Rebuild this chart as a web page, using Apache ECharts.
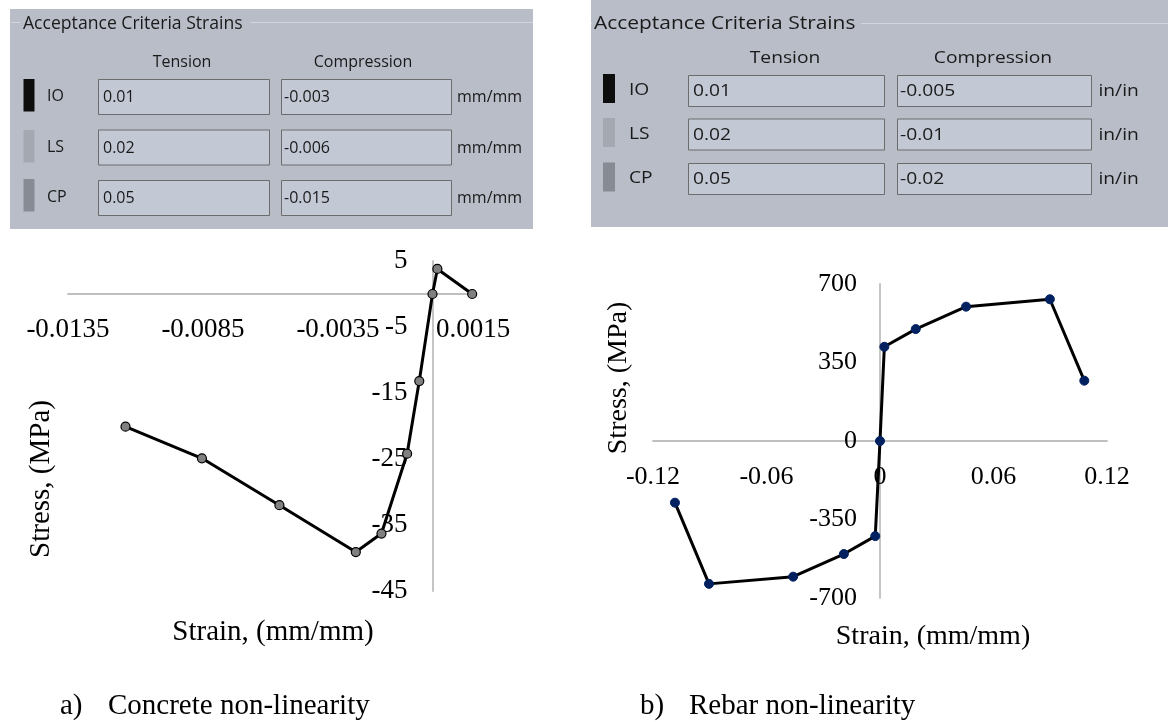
<!DOCTYPE html>
<html><head><meta charset="utf-8">
<script src="https://cdn.jsdelivr.net/npm/echarts@6.0.0/dist/echarts.min.js"></script>
<style>html,body{margin:0;padding:0;background:#fff}#c{width:1168px;height:722px}</style>
</head><body><div id="c"></div>
<script>
// ---- data ----
const concreteStrain = [-0.01137, -0.00854, -0.00567, -0.00284, -0.00189, -0.00094, -0.00049, 0, 0.00018, 0.00147];
const concreteStress = [-20.1, -24.9, -32.0, -39.1, -36.3, -24.2, -13.2, 0, 3.8, 0];
const rebarStrain = [-0.1084, -0.0904, -0.0459, -0.0191, -0.0025, 0, 0.0023, 0.0189, 0.0455, 0.0898, 0.108];
const rebarStress = [-275, -637, -605, -504, -424, 0, 420, 499, 599, 632, 269];
const concreteXAxis = {min: -0.0135, max: 0.0015, interval: 0.005};
const concreteYAxis = {min: -45, max: 5, interval: 10};
const rebarXAxis = {min: -0.12, max: 0.12, interval: 0.06};
const rebarYAxis = {min: -700, max: 700, interval: 350};
const levels = ['IO', 'LS', 'CP'];
const concreteTension = ['0.01', '0.02', '0.05'];
const concreteCompression = ['-0.003', '-0.006', '-0.015'];
const rebarTension = ['0.01', '0.02', '0.05'];
const rebarCompression = ['-0.005', '-0.01', '-0.02'];
const concreteUnit = 'mm/mm';
const rebarUnit = 'in/in';
const panelTitle = 'Acceptance Criteria Strains';
const colHeads = ['Tension', 'Compression'];
const axisTitles = {x: 'Strain, (mm/mm)', y: 'Stress, (MPa)'};
const captions = [['a)', 'Concrete non-linearity'], ['b)', 'Rebar non-linearity']];

// ---- styles ----
const SERIF = '"Liberation Serif", "Times New Roman", serif';
const UI = '"Open Sans", "Noto Sans", sans-serif';
const levelColors = ['#0d0d0d', '#a4a8b1', '#878b94'];
const PANEL_BG = '#b8bdc8', BOX_BG = '#c3c8d5', BOX_BORDER = '#6c6c6c', UI_TEXT = '#1a1a1a';

function txt(x, y, text, font, opts) {
  opts = opts || {};
  return {
    type: 'text', x: x, y: y, rotation: opts.rotation || 0,
    scaleX: opts.scaleX || 1, scaleY: 1, z: opts.z || 10,
    style: {
      text: text, font: font, fill: opts.fill || UI_TEXT,
      textAlign: opts.align || 'left', textVerticalAlign: 'middle',
      align: opts.align || 'left', verticalAlign: 'middle'
    }
  };
}
function rect(x, y, w, h, fill, stroke) {
  return {type: 'rect', z: 5, shape: {x: x, y: y, width: w, height: h},
    style: {fill: fill, stroke: stroke || null, lineWidth: stroke ? 1 : 0}};
}
function line(x1, y1, x2, y2, c) {
  return {type: 'line', z: 6, shape: {x1: x1, y1: y1, x2: x2, y2: y2}, style: {stroke: c, lineWidth: 1}};
}

function panel(p, tension, compression, unit) {
  const g = [];
  g.push(rect(p.x, p.y, p.w, p.h, PANEL_BG));
  g.push(line(p.x + 1, p.lineY, p.titleX - 3, p.lineY, '#d3d6dd'));
  g.push(line(p.titleEnd + 4, p.lineY, p.x + p.w, p.lineY, '#d3d6dd'));
  g.push(txt(p.titleX, p.titleY, panelTitle, p.titleFont, {scaleX: p.tsx}));
  g.push(txt(p.headX[0], p.headY, colHeads[0], p.font, {align: 'center', scaleX: p.sx}));
  g.push(txt(p.headX[1], p.headY, colHeads[1], p.font, {align: 'center', scaleX: p.sx}));
  for (let i = 0; i < levels.length; i++) {
    const top = p.rowTop[i];
    g.push(rect(p.barX, p.barTop[i], p.barW, p.barH, levelColors[i]));
    g.push(txt(p.labelX, top + p.boxH / 2, levels[i], p.font, {scaleX: p.sx}));
    g.push(rect(p.tBox[0] + 0.5, top + 0.5, p.tBox[1] - p.tBox[0], p.boxH, BOX_BG, BOX_BORDER));
    g.push(rect(p.cBox[0] + 0.5, top + 0.5, p.cBox[1] - p.cBox[0], p.boxH, BOX_BG, BOX_BORDER));
    g.push(txt(p.tBox[0] + 5, top + p.boxH / 2 + 1, tension[i], p.font, {scaleX: p.sx}));
    g.push(txt(p.cBox[0] + 3, top + p.boxH / 2 + 1, compression[i], p.font, {scaleX: p.sx}));
    g.push(txt(p.unitX, top + p.boxH / 2 + 1, unit, p.font, {scaleX: p.sx}));
  }
  return g;
}

const leftPanel = {x: 10, y: 9, w: 523, h: 220, lineY: 22.5, titleX: 23, titleEnd: 246, titleY: 24,
  font: '16px ' + UI, titleFont: '17.6px ' + UI, sx: 1, tsx: 1, headX: [182, 363], headY: 62,
  rowTop: [79, 129.5, 180], boxH: 35, barX: 23.5, barW: 11, barTop: [79, 130, 179], barH: 32.5,
  labelX: 47, tBox: [98, 269], cBox: [281, 451], unitX: 457};
const rightPanel = {x: 591, y: 0, w: 577, h: 227, lineY: 23.5, titleX: 594, titleEnd: 857, titleY: 24,
  font: '16px ' + UI, titleFont: '17.6px ' + UI, sx: 1.2, tsx: 1.19, headX: [785, 993], headY: 58,
  rowTop: [75, 118.5, 163], boxH: 31, barX: 603, barW: 12, barTop: [74, 118, 162.5], barH: 29,
  labelX: 629, tBox: [688, 884], cBox: [897, 1091], unitX: 1098.5};

const graphics = []
  .concat(panel(leftPanel, concreteTension, concreteCompression, concreteUnit))
  .concat(panel(rightPanel, rebarTension, rebarCompression, rebarUnit));
// axis titles
graphics.push(txt(273, 632, axisTitles.x, '29px ' + SERIF, {align: 'center', fill: '#000'}));
graphics.push(txt(41, 479, axisTitles.y, '29px ' + SERIF, {align: 'center', fill: '#000', rotation: Math.PI / 2}));
graphics.push(txt(933, 637, axisTitles.x, '28px ' + SERIF, {align: 'center', fill: '#000'}));
graphics.push(txt(619, 378, axisTitles.y, '28px ' + SERIF, {align: 'center', fill: '#000', rotation: Math.PI / 2}));
// captions
graphics.push(txt(60, 706, captions[0][0], '29px ' + SERIF, {fill: '#000'}));
graphics.push(txt(108, 706, captions[0][1], '29px ' + SERIF, {fill: '#000'}));
graphics.push(txt(640, 706, captions[1][0], '29px ' + SERIF, {fill: '#000'}));
graphics.push(txt(689, 706, captions[1][1], '29px ' + SERIF, {fill: '#000'}));

const grids = [
  {left: 68, top: 261, width: 405, height: 330},
  {left: 653, top: 284, width: 454, height: 314}
];
// axes cross at zero: shift each axis from its default edge to the other axis's zero
function zeroShift(range, size) { return -((0 - range.min) / (range.max - range.min)) * size; }

function valueAxis(gridIndex, range, fontSize, margin, offset, padding) {
  return {
    type: 'value', gridIndex: gridIndex, min: range.min, max: range.max, interval: range.interval,
    offset: offset,
    splitLine: {show: false}, axisTick: {show: false},
    axisLine: {show: true, onZero: false, lineStyle: {color: '#bfbfbf', width: 1.8}},
    axisLabel: {color: '#000', fontFamily: SERIF, fontSize: fontSize, margin: margin, padding: padding || 0}
  };
}

const chart = echarts.init(document.getElementById('c'), null, {renderer: 'canvas'});
chart.setOption({
  animation: false,
  backgroundColor: '#ffffff',
  grid: grids.map(g => Object.assign({containLabel: false, outerBoundsMode: 'none'}, g)),
  xAxis: [
    Object.assign(valueAxis(0, concreteXAxis, 27, 22, zeroShift(concreteYAxis, grids[0].height)), {position: 'bottom'}),
    Object.assign(valueAxis(1, rebarXAxis, 26, 23, zeroShift(rebarYAxis, grids[1].height)), {position: 'bottom'})
  ],
  yAxis: [
    Object.assign(valueAxis(0, concreteYAxis, 27, 25, zeroShift(concreteXAxis, grids[0].width), [4, 0, 0, 0]), {position: 'left'}),
    Object.assign(valueAxis(1, rebarYAxis, 26, 23, zeroShift(rebarXAxis, grids[1].width), [3, 0, 0, 0]), {position: 'left'})
  ],
  series: [
    {type: 'line', xAxisIndex: 0, yAxisIndex: 0, clip: false,
     data: concreteStrain.map((v, i) => [v, concreteStress[i]]),
     symbol: 'circle', symbolSize: 9, showAllSymbol: true,
     lineStyle: {color: '#000', width: 3},
     itemStyle: {color: '#808080', borderColor: '#000', borderWidth: 1.2}},
    {type: 'line', xAxisIndex: 1, yAxisIndex: 1, clip: false,
     data: rebarStrain.map((v, i) => [v, rebarStress[i]]),
     symbol: 'circle', symbolSize: 9, showAllSymbol: true,
     lineStyle: {color: '#000', width: 3},
     itemStyle: {color: '#002060', borderColor: '#002060', borderWidth: 1}}
  ],
  graphic: {elements: graphics}
});
</script></body></html>
